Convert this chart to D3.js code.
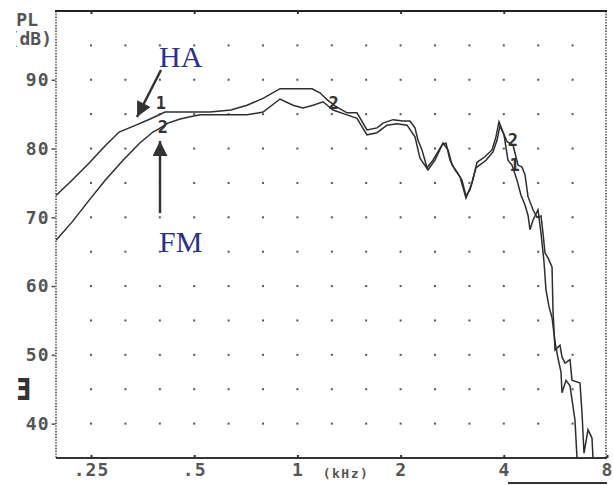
<!DOCTYPE html>
<html>
<head>
<meta charset="utf-8">
<script src="https://cdn.jsdelivr.net/npm/d3@7"></script>
<style>
  body { margin: 0; background: #fff; }
  svg { display: block; }
  .mono { font-family: "DejaVu Sans Mono", monospace; fill: #555; font-weight: bold; }
</style>
</head>
<body>
<div id="chart"></div>
<script>
var width = 613;
var height = 485;

// response curves, kHz vs dB SPL
var haFreq = [0.198, 0.220, 0.247, 0.275, 0.302, 0.338, 0.372, 0.387, 0.411, 0.470, 0.556, 0.640, 0.713, 0.794, 0.890,
  1.103, 1.164, 1.220, 1.287, 1.395, 1.492, 1.596, 1.707, 1.777, 1.900,
  2.032, 2.130, 2.203, 2.248, 2.309, 2.388, 2.486, 2.641, 2.713, 2.787, 2.882, 2.980, 3.103, 3.231, 3.341, 3.525, 3.695, 3.795, 3.873, 3.978,
  4.087, 4.255, 4.400, 4.520, 4.612, 4.706, 4.867, 4.999, 5.135, 5.205, 5.275, 5.383, 5.530, 5.566, 5.642, 5.834, 5.913, 6.034, 6.240, 6.324, 6.673, 6.764, 6.855, 7.041, 7.233, 7.282];
var haDb = [73.2, 75.4, 77.9, 80.4, 82.4, 83.4, 84.3, 84.7, 85.3, 85.3, 85.3, 85.6, 86.3, 87.3, 88.7,
  88.7, 88.1, 87.1, 86.2, 85.2, 85.2, 82.7, 83.0, 83.7, 84.2,
  84.0, 84.0, 83.0, 81.2, 79.8, 77.2, 78.3, 80.5, 80.8, 78.3, 76.9, 75.9, 72.8, 75.0, 78.0, 78.8, 79.8, 81.7, 83.9, 82.4,
  81.0, 80.5, 77.6, 77.3, 76.2, 73.0, 71.1, 70.0, 70.2, 67.7, 64.8, 64.1, 62.8, 56.5, 50.7, 51.4, 49.7, 48.8, 49.3, 46.3, 45.9, 41.5, 35.7, 39.1, 37.9, 35.0];

var fmFreq = [0.198, 0.220, 0.247, 0.275, 0.310, 0.347, 0.379, 0.392, 0.419, 0.455, 0.483, 0.520, 0.636, 0.713, 0.794, 0.890,
  0.971, 1.038, 1.111, 1.188, 1.270, 1.395, 1.492, 1.596, 1.707, 1.825, 1.953,
  2.088, 2.203, 2.278, 2.404, 2.520, 2.659, 2.750, 2.825, 2.921, 3.021, 3.103, 3.188, 3.319, 3.550, 3.720, 3.821, 3.899,
  4.005, 4.114, 4.226, 4.371, 4.490, 4.612, 4.706, 4.770, 4.867, 5.033, 5.135, 5.240, 5.311, 5.419, 5.530, 5.642, 5.756, 5.874, 5.913, 6.074, 6.240, 6.452, 6.540];
var fmDb = [66.7, 69.3, 72.5, 75.4, 78.3, 80.8, 82.4, 82.8, 83.7, 84.3, 84.6, 84.9, 84.9, 84.9, 85.3, 87.2,
  86.3, 85.9, 86.3, 86.8, 85.6, 84.9, 84.4, 82.0, 82.3, 83.4, 83.6,
  83.4, 81.7, 78.6, 76.9, 78.3, 80.8, 79.8, 77.6, 76.6, 75.4, 73.1, 74.0, 77.2, 78.3, 79.5, 81.2, 83.3,
  82.0, 78.3, 77.6, 75.4, 73.2, 71.8, 70.3, 68.2, 69.6, 71.1, 67.7, 63.5, 59.4, 57.0, 55.4, 51.9, 49.5, 47.5, 44.5, 46.3, 45.5, 40.5, 35.0];

var octaveTicks = [0.25, 0.5, 1, 2, 4, 8];
var octaveLabels = [".25", ".5", "1", "2", "4", "8"];
var gridFreqs = [0.25, 0.315, 0.397, 0.5, 0.63, 0.794, 1, 1.26, 1.587, 2, 2.52, 3.175, 4, 5.04, 6.35];
var gridDb = [40, 45, 50, 55, 60, 65, 70, 75, 80, 85, 90, 95];
var dbTicks = [40, 50, 60, 70, 80, 90];

// curve number marks [kHz, dB, text]
var curveMarks = [[0.40, 85.8, "1"], [0.405, 82.2, "2"], [1.275, 85.8, "2"], [4.25, 80.4, "2"], [4.3, 76.7, "1"]];

var plotLeft = 56.6, plotRight = 607, plotTop = 11, plotBottom = 458;

var x = d3.scaleLog().domain([0.25 * Math.pow(2, -1 / 3), 8]).range([plotLeft, plotRight]);
var y = d3.scaleLinear().domain([35, 100]).range([plotBottom, plotTop]);

var svg = d3.select("#chart").append("svg")
  .attr("width", width)
  .attr("height", height);

// grid dots
gridDb.forEach(function(db) {
  svg.selectAll(null)
    .data(gridFreqs)
    .enter()
    .append("rect")
    .attr("x", function(f) { return x(f) - 1; })
    .attr("y", y(db) - 1)
    .attr("width", 2)
    .attr("height", 2)
    .style("fill", "#555");
});

// frame: dotted sides, solid top and bottom
svg.append("line")
  .attr("x1", 56).attr("x2", 56).attr("y1", plotTop).attr("y2", plotBottom)
  .style("stroke", "#444").style("stroke-width", 1.6).style("stroke-dasharray", "1.4,1.4");
svg.append("line")
  .attr("x1", 606).attr("x2", 606).attr("y1", plotTop).attr("y2", plotBottom)
  .style("stroke", "#444").style("stroke-width", 1.6).style("stroke-dasharray", "1.4,1.4");

var xAxis = d3.axisBottom(x)
  .tickValues(octaveTicks)
  .tickSizeInner(-3)
  .tickSizeOuter(0)
  .tickPadding(5)
  .tickFormat(function(d, i) { return octaveLabels[i]; });
var gx = svg.append("g")
  .attr("transform", "translate(0," + plotBottom + ")")
  .call(xAxis);
gx.select(".domain").attr("d", "M56,0H607").style("stroke", "#333").style("stroke-width", 2);
gx.selectAll(".tick line").style("stroke", "#333").style("stroke-width", 2);
gx.selectAll("text")
  .attr("class", "mono")
  .style("font-size", "18px")
  .style("letter-spacing", "1px");

var topAxis = d3.axisTop(x)
  .tickValues(octaveTicks.slice(0, 5))
  .tickSizeInner(-3)
  .tickSizeOuter(0)
  .tickFormat("");
var gt = svg.append("g")
  .attr("transform", "translate(0," + plotTop + ")")
  .call(topAxis);
gt.select(".domain").attr("d", "M55,0H607").style("stroke", "#222").style("stroke-width", 2);
gt.selectAll(".tick line").style("stroke", "#333").style("stroke-width", 2);

var yAxis = d3.axisLeft(y)
  .tickValues(dbTicks)
  .tickSizeInner(4)
  .tickSizeOuter(0)
  .tickPadding(2);
var gy = svg.append("g")
  .attr("transform", "translate(55.5,0)")
  .call(yAxis);
gy.select(".domain").remove();
gy.selectAll(".tick line").style("stroke", "#555").style("stroke-width", 1.5);
gy.selectAll("text")
  .attr("class", "mono")
  .style("font-size", "18px")
  .style("letter-spacing", "1px");

svg.append("text")
  .attr("class", "mono")
  .attr("x", 346).attr("y", 478)
  .attr("text-anchor", "middle")
  .style("font-size", "13px")
  .style("letter-spacing", "1.5px")
  .text("(kHz)");

// bar under the right end of the axis
svg.append("line")
  .attr("x1", 508).attr("x2", 607).attr("y1", 483).attr("y2", 483)
  .style("stroke", "#333").style("stroke-width", 2);

// clipped axis title at top left
svg.append("clipPath").attr("id", "titleClip")
  .append("rect").attr("x", 16).attr("y", 0).attr("width", 60).attr("height", 60);
var title = svg.append("g").attr("clip-path", "url(#titleClip)");
title.append("text")
  .attr("class", "mono")
  .attr("x", 38).attr("y", 26)
  .attr("text-anchor", "end")
  .style("font-size", "18px")
  .text("SPL");
title.append("text")
  .attr("class", "mono")
  .attr("x", 52).attr("y", 45)
  .attr("text-anchor", "end")
  .style("font-size", "18px")
  .text("(dB)");

svg.append("text")
  .attr("transform", "translate(16,400) scale(0.7,1)")
  .style("font-family", "DejaVu Sans")
  .style("font-weight", "bold")
  .style("font-size", "31px")
  .style("fill", "#333")
  .text("Ǝ");

// curves
var line = d3.line()
  .x(function(d) { return x(d[0]); })
  .y(function(d) { return y(Math.max(d[1], 35)); });

[[haFreq, haDb], [fmFreq, fmDb]].forEach(function(s) {
  var pts = s[0].map(function(f, i) { return [f, s[1][i]]; });
  svg.append("path")
    .attr("d", line(pts))
    .style("fill", "none")
    .style("stroke", "#2e2e2e")
    .style("stroke-width", 1.5);
});

svg.selectAll(".cmark")
  .data(curveMarks)
  .enter()
  .append("text")
  .attr("class", "mono cmark")
  .attr("x", function(d) { return x(d[0]); })
  .attr("y", function(d) { return y(d[1]); })
  .attr("text-anchor", "middle")
  .style("font-size", "17px")
  .style("fill", "#333")
  .text(function(d) { return d[2]; });

// annotations
svg.append("defs").append("marker")
  .attr("id", "head")
  .attr("viewBox", "0 0 10 10")
  .attr("refX", 10).attr("refY", 5)
  .attr("markerWidth", 6.5).attr("markerHeight", 6)
  .attr("markerUnits", "strokeWidth")
  .attr("orient", "auto")
  .append("path")
  .attr("d", "M0,0L10,5L0,10Z")
  .style("fill", "#333");

svg.append("line")
  .attr("x1", 161).attr("y1", 70).attr("x2", 137).attr("y2", 117)
  .attr("marker-end", "url(#head)")
  .style("stroke", "#333").style("stroke-width", 2.5);
svg.append("line")
  .attr("x1", 160).attr("y1", 213).attr("x2", 160).attr("y2", 141)
  .attr("marker-end", "url(#head)")
  .style("stroke", "#333").style("stroke-width", 2.5);

svg.append("text")
  .attr("x", 159).attr("y", 67)
  .style("font-family", "Liberation Serif, serif")
  .style("font-size", "30px")
  .style("fill", "#2b2f8e")
  .text("HA");
svg.append("text")
  .attr("x", 159).attr("y", 252)
  .style("font-family", "Liberation Serif, serif")
  .style("font-size", "30px")
  .style("fill", "#2b2f8e")
  .text("FM");
</script>
</body>
</html>
